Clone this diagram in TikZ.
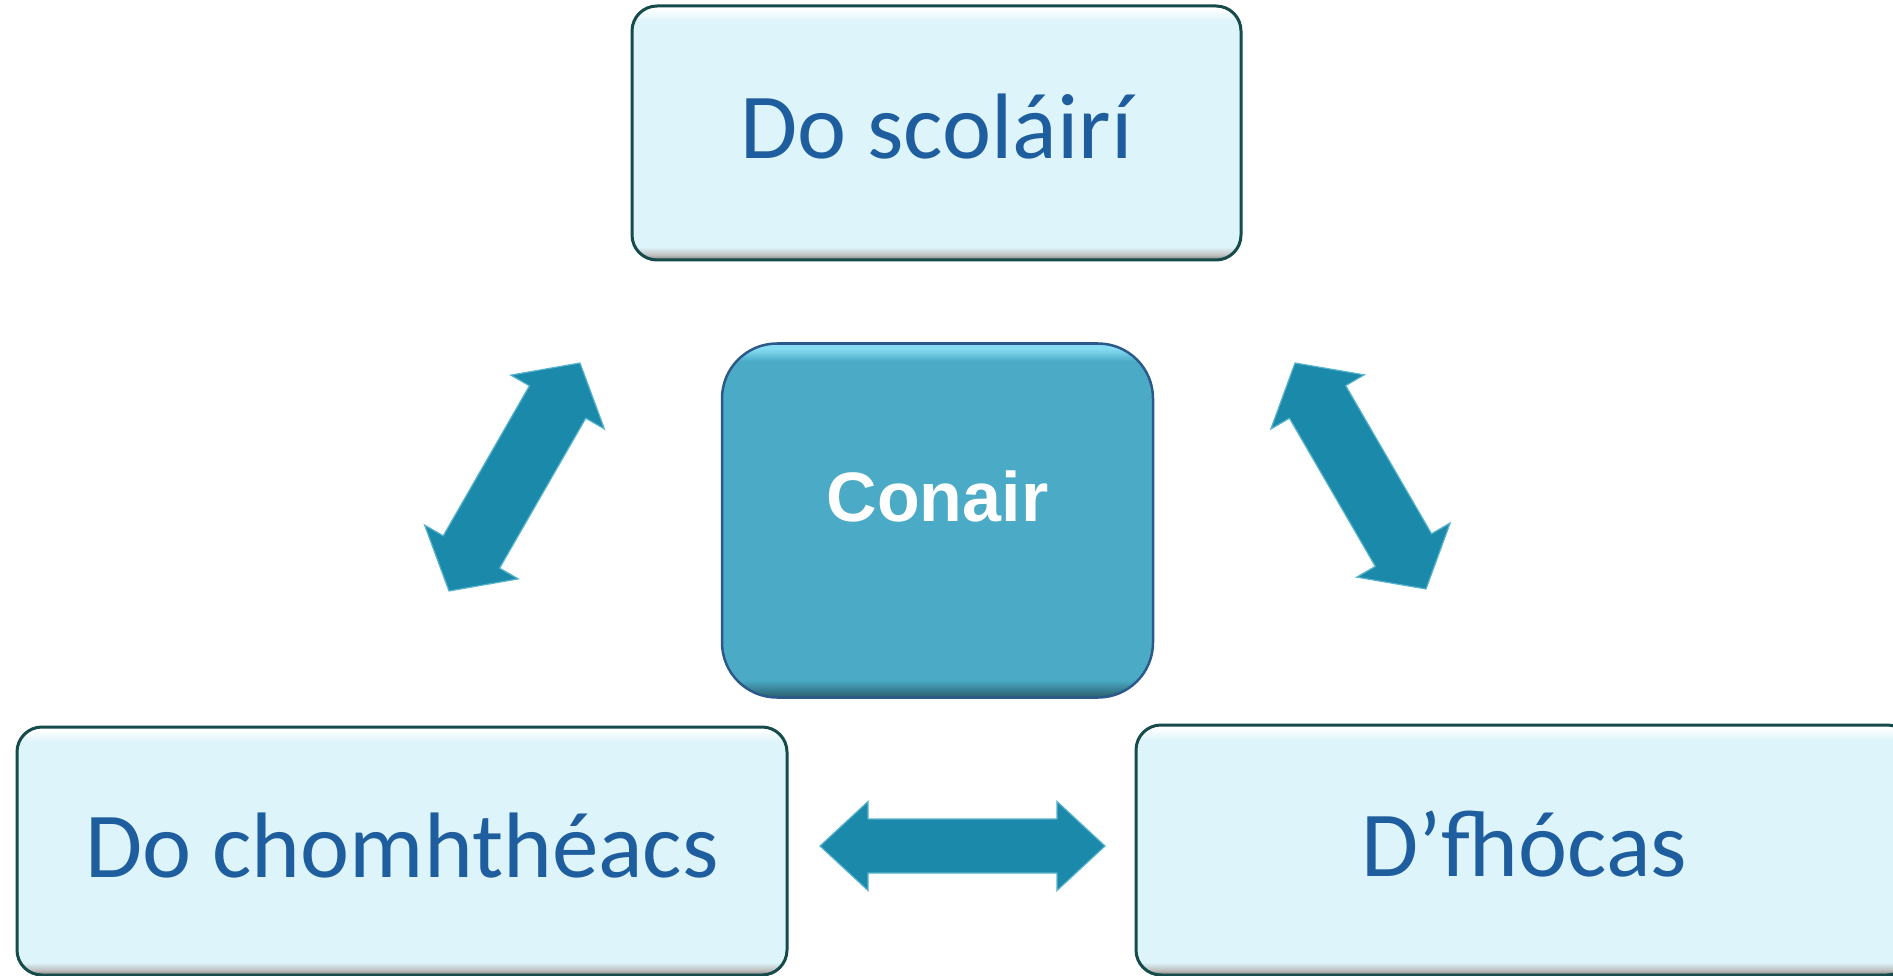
\documentclass[tikz,border=0pt]{standalone}
\usepackage{fontspec}
\setmainfont{Carlito}
\newfontfamily\corefont{Liberation Sans}
\usetikzlibrary{calc}

\definecolor{paleblue}{HTML}{DDF4FA}
\definecolor{palerim}{HTML}{154B4B}
\definecolor{textblue}{HTML}{1F5E9E}
\definecolor{corefill}{HTML}{4BABC6}
\definecolor{corelight}{HTML}{86DDF3}
\definecolor{corerim}{HTML}{2B5A8A}
\definecolor{arrowteal}{HTML}{1B89A9}
\definecolor{arrowedge}{HTML}{58B3CC}

\pgfdeclareverticalshading{palebevel}{100bp}{color(0bp)=(black!50); color(25bp)=(black!50);
  color(26bp)=(black!25); color(27.5bp)=(paleblue); color(72bp)=(paleblue);
  color(74.5bp)=(white); color(100bp)=(white)}
\pgfdeclareverticalshading{corebevel}{100bp}{color(0bp)=(corefill!55!black); color(25bp)=(corefill!55!black);
  color(27.5bp)=(corefill); color(72.5bp)=(corefill);
  color(74.3bp)=(corelight); color(100bp)=(corelight)}

\tikzset{
  palebox/.style={shade, shading=palebevel, draw=palerim, line width=3pt, rounded corners=25pt,
    inner sep=0pt, text=textblue, font=\fontsize{93}{100}\selectfont, text height=60pt, text depth=8pt},
  corebox/.style={shade, shading=corebevel, draw=corerim, line width=2.5pt, rounded corners=55pt,
    inner sep=0pt, text=white, font=\corefont\bfseries\fontsize{70}{80}\selectfont, text height=50pt, text depth=48pt},
  linkarrow/.style={fill=arrowteal, draw=arrowedge, line width=1.2pt, line join=miter}
}

% block arrow with two heads: from, to, head length, head half width, shaft half width
\newcommand\linkarrow[5]{%
  \filldraw[linkarrow] (#1)
    -- ($(#1)!#3!(#2)!#4!90:(#2)$) -- ($(#1)!#3!(#2)!#5!90:(#2)$)
    -- ($(#2)!#3!(#1)!#5!-90:(#1)$) -- ($(#2)!#3!(#1)!#4!-90:(#1)$)
    -- (#2)
    -- ($(#2)!#3!(#1)!#4!90:(#1)$) -- ($(#2)!#3!(#1)!#5!90:(#1)$)
    -- ($(#1)!#3!(#2)!#5!-90:(#2)$) -- ($(#1)!#3!(#2)!#4!-90:(#2)$)
    -- cycle;}

\begin{document}
\begin{tikzpicture}[x=1pt, y=-1pt]
\useasboundingbox (0,0) rectangle (1893,976);
\clip (0,0) rectangle (1893,976);

% the four boxes
\node[palebox, minimum width=609pt, minimum height=254pt] (scolairi) at (936.5,133) {Do scoláirí};
\node[corebox, minimum width=431pt, minimum height=354pt] (conair) at (937.5,520.5) {Conair};
\node[palebox, minimum width=770pt, minimum height=248pt] (comhtheacs) at (402,851) {Do chomhthéacs};
\node[palebox, minimum width=776pt, minimum height=250pt] (focas) at (1524,850) {D’fhócas};

% arrows between them
\coordinate (leftlow) at (449,591);
\coordinate (lefthigh) at (580,363);
\coordinate (righthigh) at (1295,363);
\coordinate (rightlow) at (1426,589);
\coordinate (midleft) at (820,846);
\coordinate (midright) at (1105,846);

\linkarrow{leftlow}{lefthigh}{45pt}{54pt}{32.5pt}
\linkarrow{righthigh}{rightlow}{45pt}{54pt}{32.5pt}
\linkarrow{midleft}{midright}{48pt}{44.5pt}{27pt}
\end{tikzpicture}
\end{document}
